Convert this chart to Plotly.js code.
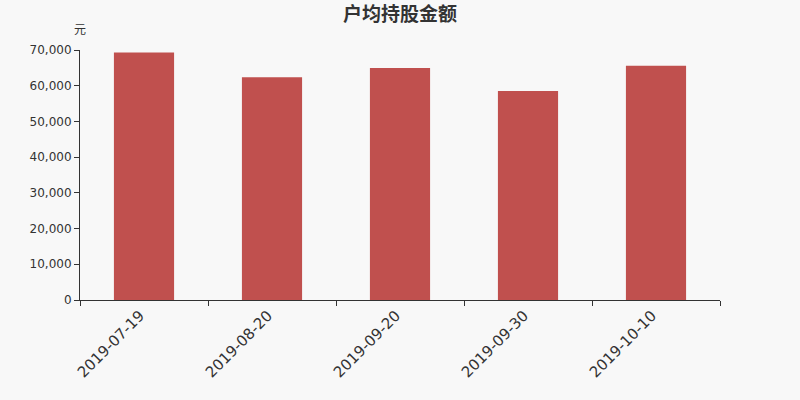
<!DOCTYPE html>
<html><head><meta charset="utf-8">
<script src="https://cdn.plot.ly/plotly-3.0.1.min.js"></script>
<style>html,body{margin:0;padding:0;background:#f8f8f8;}</style>
</head><body>
<div id="chart" style="width:800px;height:400px;"></div>
<script>
const categories = ["2019-07-19", "2019-08-20", "2019-09-20", "2019-09-30", "2019-10-10"];
const values = [69300, 62400, 64950, 58500, 65600];
const yTicks = [0, 10000, 20000, 30000, 40000, 50000, 60000, 70000];
const yTickLabels = ["0", "10,000", "20,000", "30,000", "40,000", "50,000", "60,000", "70,000"];
const chartTitle = "户均持股金额";
const unitLabel = "元";

const font = "DejaVu Sans, Noto Sans CJK SC, sans-serif";
Plotly.newPlot("chart", [{
  type: "bar",
  x: categories,
  y: values,
  width: 0.47,
  marker: {color: "#c0504e"},
  hoverinfo: "x+y"
}], {
  width: 800, height: 400,
  paper_bgcolor: "#f8f8f8",
  plot_bgcolor: "#f8f8f8",
  margin: {l: 80, r: 80, t: 50, b: 100},
  title: {text: "<b>" + chartTitle + "</b>", x: 0.5, xanchor: "center", y: 0.965, yanchor: "middle",
          font: {family: "Noto Sans CJK SC, sans-serif", size: 19, color: "#333"}},
  xaxis: {
    type: "category",
    tickson: "boundaries",
    ticks: "outside", ticklen: 5, tickcolor: "#333",
    showline: true, linecolor: "#333", linewidth: 1,
    showgrid: false, zeroline: false,
    tickangle: -45,
    ticklabelshift: -4,
    tickfont: {family: font, size: 15, color: "#333"},
    range: [-0.5, 4.5]
  },
  yaxis: {
    range: [0, 70000],
    tickvals: yTicks, ticktext: yTickLabels,
    ticks: "outside", ticklen: 5, tickcolor: "#333",
    showline: true, linecolor: "#333", linewidth: 1,
    showgrid: false, zeroline: false,
    tickfont: {family: font, size: 12, color: "#333"}
  },
  annotations: [{
    text: unitLabel, xref: "paper", yref: "paper", x: 0, y: 1.085,
    xanchor: "center", yanchor: "middle", showarrow: false,
    font: {family: "Noto Sans CJK SC, sans-serif", size: 12, color: "#333"}
  }],
  showlegend: false
}, {displayModeBar: false, staticPlot: true});
</script>
</body></html>
